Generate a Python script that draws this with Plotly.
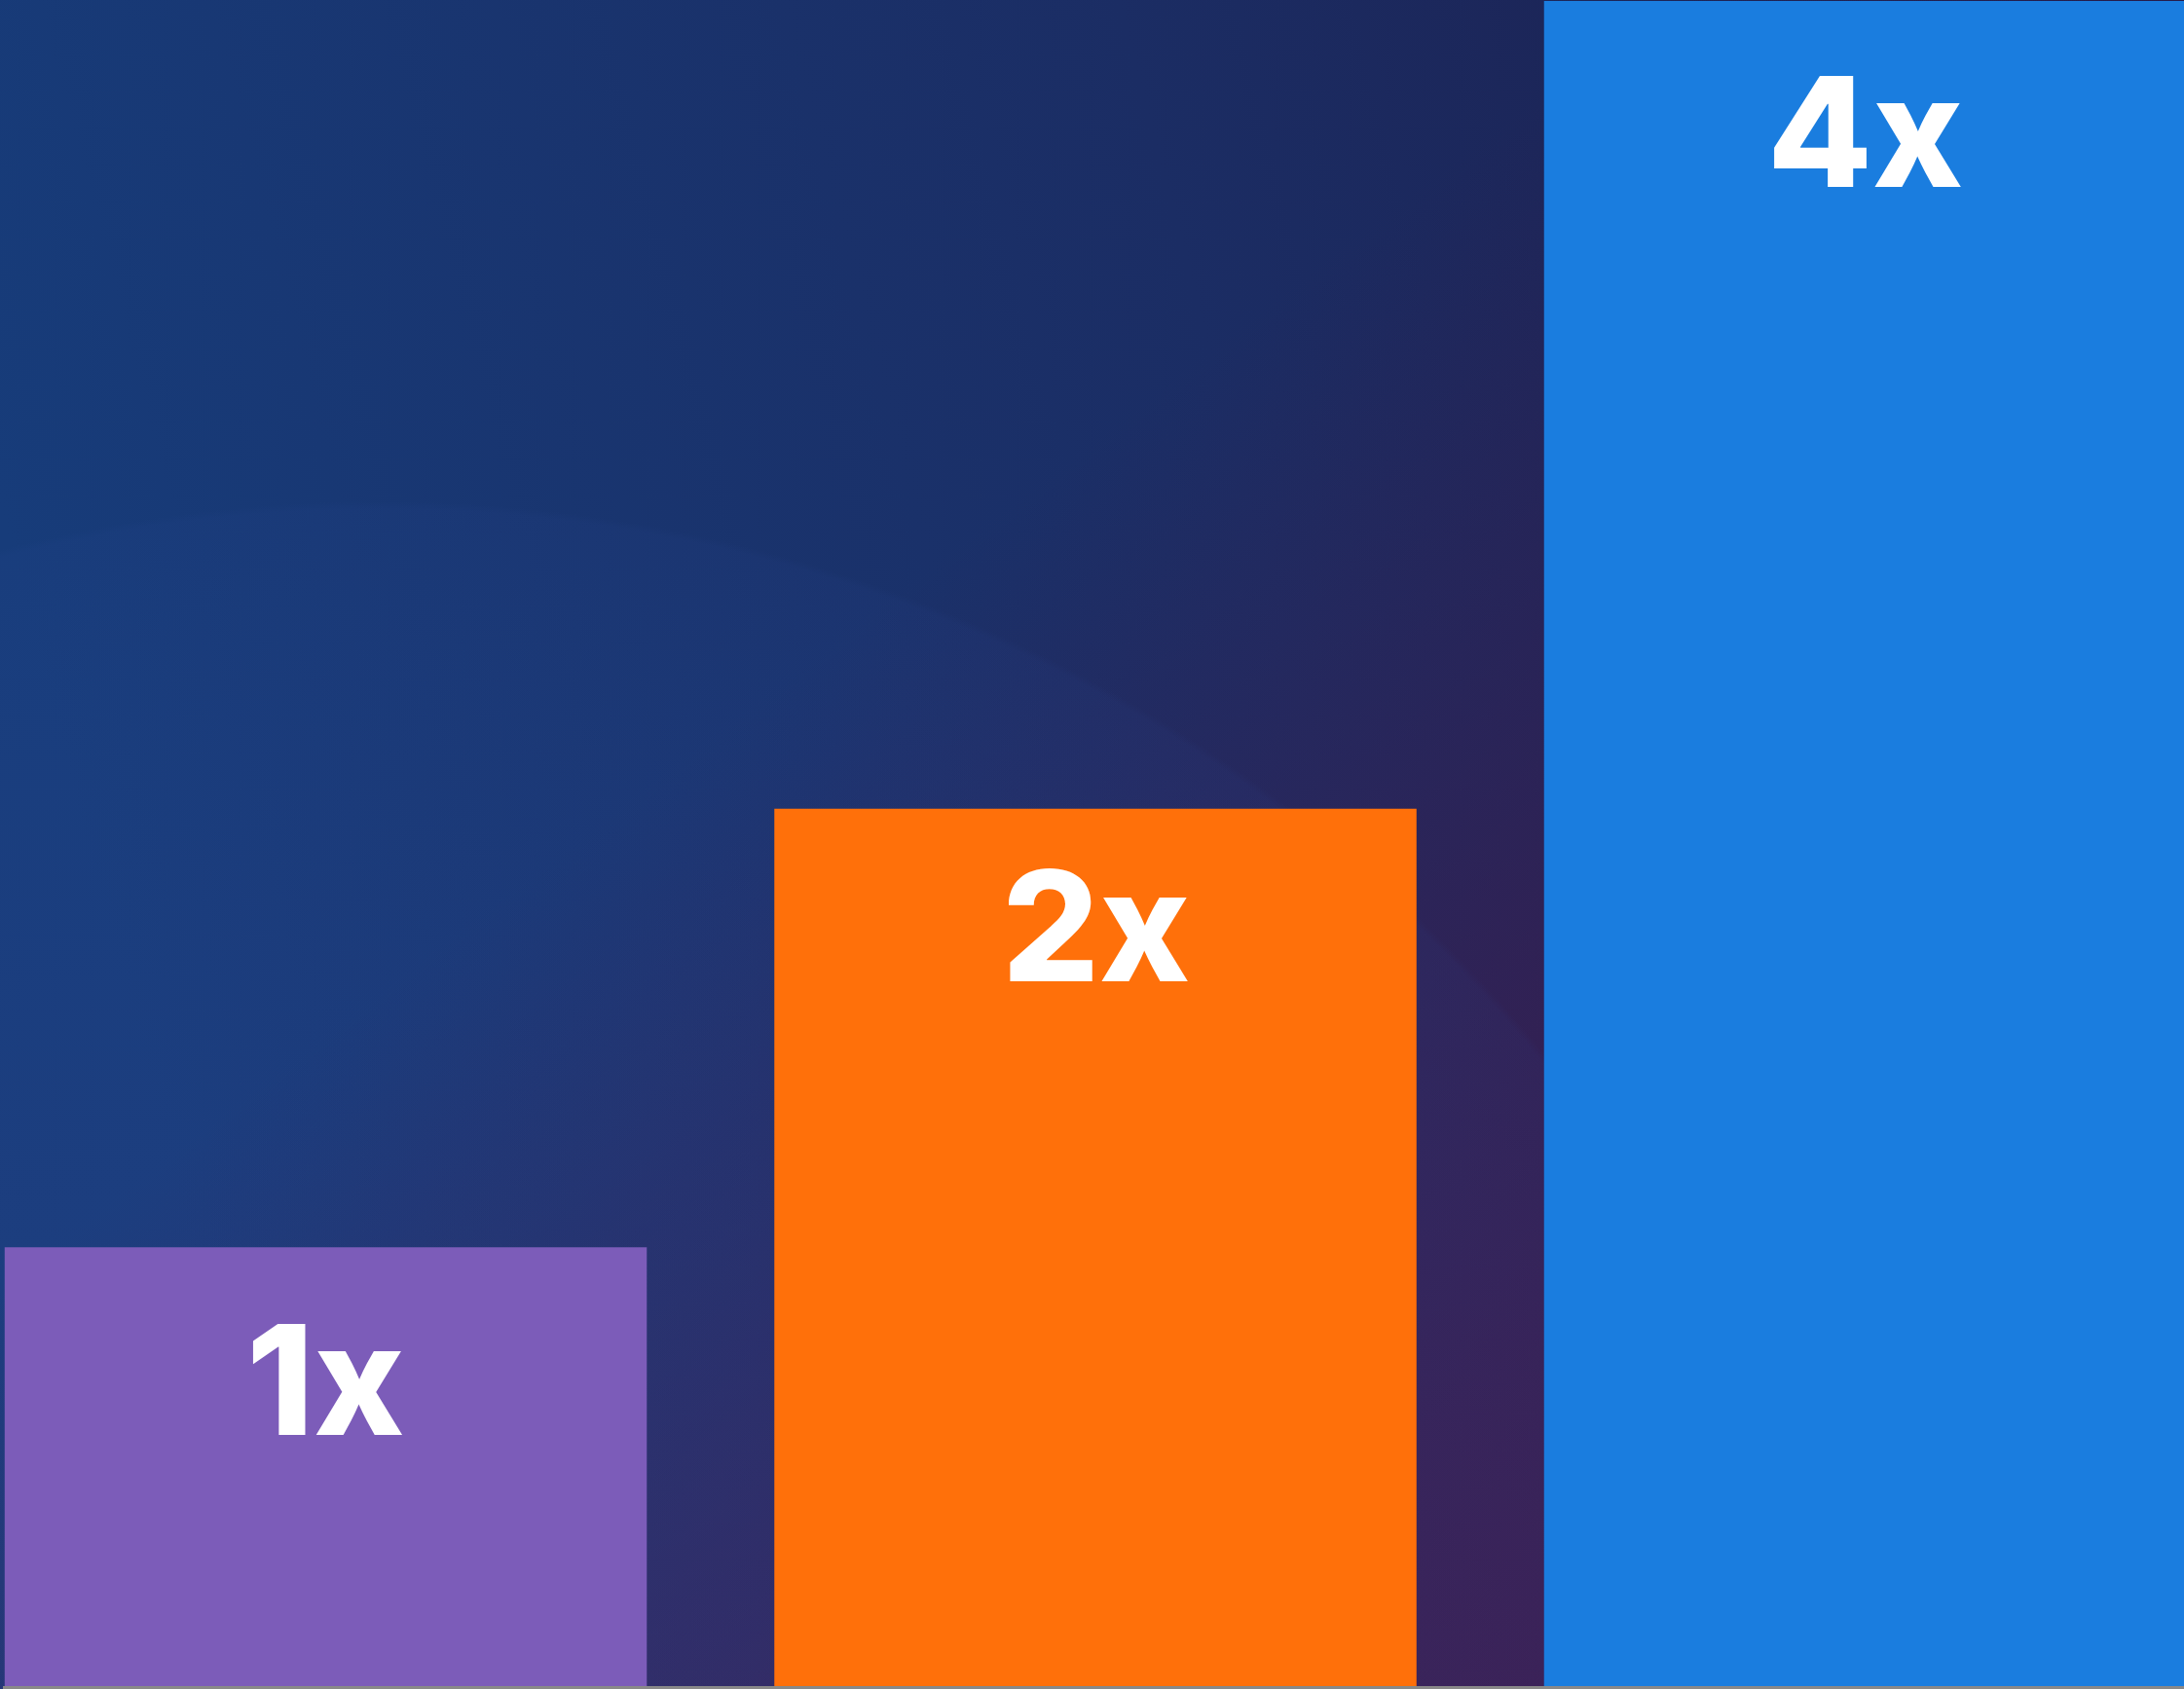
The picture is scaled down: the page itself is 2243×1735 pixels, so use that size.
import base64
import plotly.graph_objects as go

# ---- data ----
categories = ["1x", "2x", "4x"]
values = [1, 2, 4]
labels = ["1x", "2x", "4x"]
colors = ["#7C5CB9", "#FF700A", "#1A7DDF"]

W, H = 2243, 1735

# ---- background gradient (decorative) as an inline SVG image ----
svg = f'''<svg xmlns="http://www.w3.org/2000/svg" width="{W}" height="{H}" viewBox="0 0 {W} {H}" preserveAspectRatio="none">
<defs>
<linearGradient id="base" x1="0" y1="0.3" x2="1" y2="0.1">
<stop offset="0" stop-color="#173c7a"/>
<stop offset="0.55" stop-color="#1b2d64"/>
<stop offset="1" stop-color="#1d1c4a"/>
</linearGradient>
<linearGradient id="purp" x1="0" y1="0" x2="1" y2="1">
<stop offset="0.38" stop-color="#44194a" stop-opacity="0"/>
<stop offset="0.75" stop-color="#44194a" stop-opacity="0.72"/>
<stop offset="1" stop-color="#44194a" stop-opacity="1"/>
</linearGradient>
<radialGradient id="glow" gradientUnits="userSpaceOnUse" cx="390" cy="2060" r="1545">
<stop offset="0" stop-color="#3a3f8a" stop-opacity="0.30"/>
<stop offset="0.9" stop-color="#2d4a9a" stop-opacity="0.12"/>
<stop offset="0.995" stop-color="#2d4a9a" stop-opacity="0.09"/>
<stop offset="1" stop-color="#2d4a9a" stop-opacity="0"/>
</radialGradient>
</defs>
<rect x="0" y="0" width="{W}" height="{H}" fill="url(#base)"/>
<rect x="0" y="0" width="{W}" height="{H}" fill="url(#purp)"/>
<rect x="0" y="0" width="{W}" height="{H}" fill="url(#glow)"/>
</svg>'''
bg_src = "data:image/svg+xml;base64," + base64.b64encode(svg.encode()).decode()

fig = go.Figure(
    go.Bar(
        x=categories,
        y=values,
        marker=dict(color=colors, line=dict(width=0)),
        hoverinfo="skip",
    )
)

# label anchor heights (in axis units) inside each bar
label_y = [0.70, 1.733, 3.543]
for c, t, ly in zip(categories, labels, label_y):
    fig.add_annotation(
        x=c, y=ly, xref="x", yref="y", text=t, showarrow=False,
        xanchor="center", yanchor="middle",
        font=dict(family="Inter, Montserrat, sans-serif", size=157, color="#FFFFFF", weight=800),
    )

ml, mr, mt, mb = 3, 0, 1, 3
pw, ph = W - ml - mr, H - mt - mb

fig.add_layout_image(
    source=bg_src, xref="paper", yref="paper",
    x=-ml / pw, y=1 + mt / ph, sizex=W / pw, sizey=H / ph,
    xanchor="left", yanchor="top", sizing="stretch", layer="below",
)

fig.update_layout(
    width=W, height=H,
    margin=dict(l=ml, r=mr, t=mt, b=mb, pad=0),
    paper_bgcolor="#1d2a5e",
    plot_bgcolor="rgba(0,0,0,0)",
    bargap=0.1657,
    showlegend=False,
    xaxis=dict(range=[-0.4194, 2.4143], showticklabels=False, ticks="", showgrid=False,
               zeroline=False, showline=True, linecolor="#898989", linewidth=3, fixedrange=True),
    yaxis=dict(range=[0, 3.841], showticklabels=False, ticks="", showgrid=False,
               zeroline=False, showline=False, fixedrange=True),
)

fig.write_html("out.html", config={"displayModeBar": False})
